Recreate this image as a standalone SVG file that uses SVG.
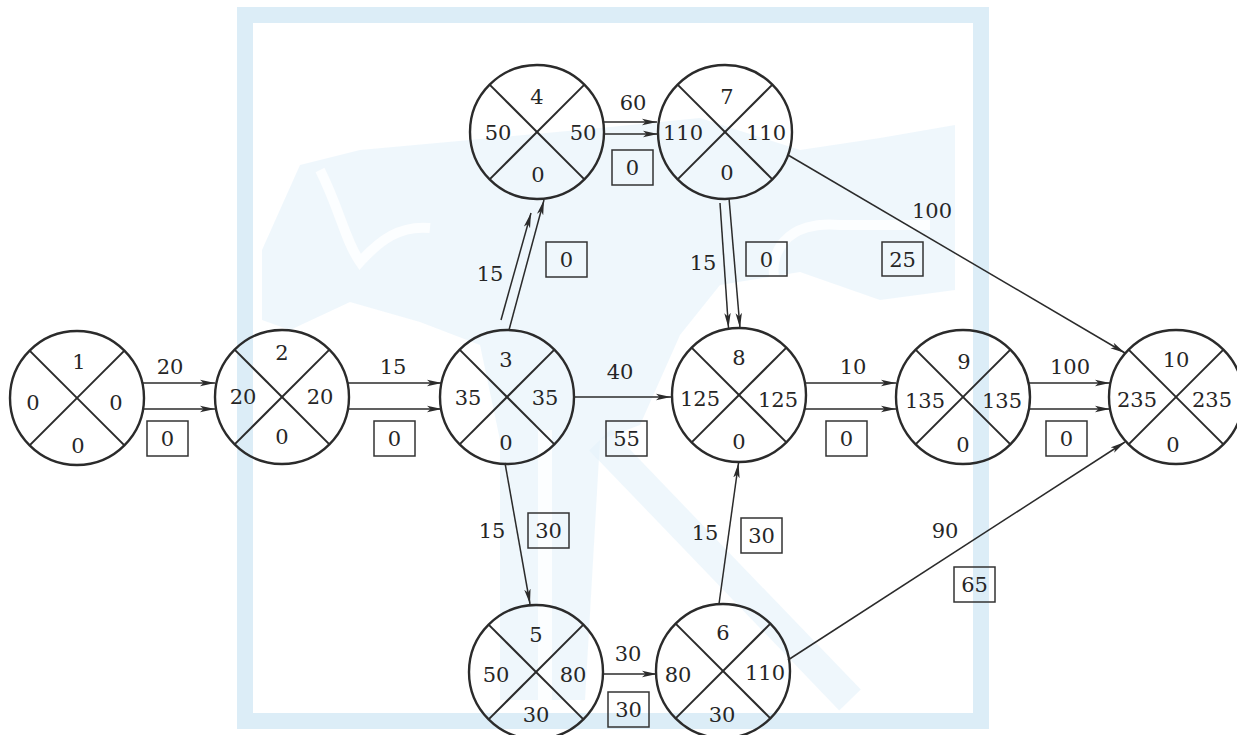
<svg xmlns="http://www.w3.org/2000/svg" width="1237" height="735" viewBox="0 0 1237 735">
  <style>
    .c { fill: none; stroke: #2b2b2b; stroke-width: 2.4; }
    .x { stroke: #2b2b2b; stroke-width: 2; }
    .t { font-family: "DejaVu Serif", "Liberation Serif", serif; font-size: 21px; fill: #262626; text-anchor: middle; }
    .e { fill: none; stroke: #2b2b2b; stroke-width: 1.5; }
    .b { fill: none; stroke: #333333; stroke-width: 1.5; }
    .wm { fill: #e4f1fa; }
  </style>
  <defs>
    <marker id="ah" markerWidth="16" markerHeight="8" refX="15" refY="4" orient="auto" markerUnits="userSpaceOnUse">
      <path d="M0,0.8 L15,4 L0,7.2 L3.5,4 Z" fill="#2b2b2b"/>
    </marker>
  </defs>
  <rect width="1237" height="735" fill="#ffffff"/>

  <g id="watermark">
    <rect x="245" y="15" width="736" height="706" fill="none" stroke="#dcedf7" stroke-width="16"/>
    <path class="wm" d="M300,165 L360,150 L470,140 L600,128 L700,118 L800,150 L880,138 L955,125 L955,290 L880,300 L800,272 L720,285 L680,335 L640,425 L600,440 L585,700 L500,700 L500,440 L480,345 L420,322 L350,302 L290,330 L262,320 L262,250 Z" opacity="0.6"/>
    <path d="M320,170 C340,210 345,240 360,262 C380,240 400,225 430,228" fill="none" stroke="#ffffff" stroke-width="10" opacity="0.8"/>
    <path d="M780,300 C760,250 790,220 840,225 L930,225" fill="none" stroke="#ffffff" stroke-width="10" opacity="0.8"/>
    <path d="M600,440 L850,700" fill="none" stroke="#e4f1fa" stroke-width="30" opacity="0.6"/>
    <path d="M545,430 L545,700" fill="none" stroke="#ffffff" stroke-width="14" opacity="0.8"/>
  </g>

  <g id="connectors">
    <line class="e" x1="142" y1="383" x2="215" y2="383" marker-end="url(#ah)"/>
    <line class="e" x1="142" y1="409" x2="215" y2="409" marker-end="url(#ah)"/>
    <text class="t" x="170" y="374">20</text>
    <rect class="b" x="147" y="421" width="41" height="35"/>
    <text class="t" x="167.5" y="446">0</text>

    <line class="e" x1="348" y1="383" x2="442" y2="383" marker-end="url(#ah)"/>
    <line class="e" x1="348" y1="409" x2="442" y2="409" marker-end="url(#ah)"/>
    <text class="t" x="393" y="374">15</text>
    <rect class="b" x="374" y="421" width="41" height="35"/>
    <text class="t" x="394.5" y="446">0</text>

    <line class="e" x1="574" y1="397" x2="671" y2="397" marker-end="url(#ah)"/>
    <text class="t" x="620" y="379">40</text>
    <rect class="b" x="606" y="421" width="41" height="35"/>
    <text class="t" x="626.5" y="446">55</text>

    <line class="e" x1="805" y1="383" x2="896" y2="383" marker-end="url(#ah)"/>
    <line class="e" x1="805" y1="409" x2="896" y2="409" marker-end="url(#ah)"/>
    <text class="t" x="853" y="374">10</text>
    <rect class="b" x="826" y="421" width="41" height="35"/>
    <text class="t" x="846.5" y="446">0</text>

    <line class="e" x1="1028" y1="383" x2="1110" y2="383" marker-end="url(#ah)"/>
    <line class="e" x1="1028" y1="409" x2="1110" y2="409" marker-end="url(#ah)"/>
    <text class="t" x="1070" y="374">100</text>
    <rect class="b" x="1046" y="421" width="41" height="35"/>
    <text class="t" x="1066.5" y="446">0</text>

    <line class="e" x1="603" y1="122" x2="657" y2="122" marker-end="url(#ah)"/>
    <line class="e" x1="603" y1="134" x2="658" y2="134" marker-end="url(#ah)"/>
    <text class="t" x="633" y="110">60</text>
    <rect class="b" x="612" y="150" width="41" height="35"/>
    <text class="t" x="632.5" y="175">0</text>

    <line class="e" x1="501" y1="320" x2="531" y2="213" marker-end="url(#ah)"/>
    <line class="e" x1="509" y1="330" x2="544" y2="200" marker-end="url(#ah)"/>
    <text class="t" x="490" y="281">15</text>
    <rect class="b" x="546" y="242" width="41" height="35"/>
    <text class="t" x="566.5" y="267">0</text>

    <line class="e" x1="720" y1="203" x2="728.5" y2="328" marker-end="url(#ah)"/>
    <line class="e" x1="729" y1="198" x2="740" y2="328" marker-end="url(#ah)"/>
    <text class="t" x="703" y="270">15</text>
    <rect class="b" x="746" y="242" width="41" height="34"/>
    <text class="t" x="766.5" y="267">0</text>

    <line class="e" x1="788" y1="155" x2="1125" y2="353" marker-end="url(#ah)"/>
    <text class="t" x="932" y="218">100</text>
    <rect class="b" x="882" y="242" width="41" height="34"/>
    <text class="t" x="902.5" y="267">25</text>

    <line class="e" x1="505" y1="463" x2="530" y2="604" marker-end="url(#ah)"/>
    <text class="t" x="492" y="538">15</text>
    <rect class="b" x="528" y="513" width="41" height="35"/>
    <text class="t" x="548.5" y="538">30</text>

    <line class="e" x1="719" y1="604" x2="738.5" y2="463" marker-end="url(#ah)"/>
    <text class="t" x="705" y="540">15</text>
    <rect class="b" x="741" y="518" width="41" height="35"/>
    <text class="t" x="761.5" y="543">30</text>

    <line class="e" x1="602" y1="674" x2="657" y2="674" marker-end="url(#ah)"/>
    <text class="t" x="628" y="661">30</text>
    <rect class="b" x="608" y="692" width="41" height="35"/>
    <text class="t" x="628.5" y="717">30</text>

    <line class="e" x1="788" y1="660" x2="1125" y2="442" marker-end="url(#ah)"/>
    <text class="t" x="945" y="538">90</text>
    <rect class="b" x="954" y="567" width="41" height="35"/>
    <text class="t" x="974.5" y="592">65</text>
  </g>

  <g id="node1">
    <circle class="c" cx="77" cy="398" r="67"/>
    <line class="x" x1="29.6" y1="350.6" x2="124.4" y2="445.4"/>
    <line class="x" x1="124.4" y1="350.6" x2="29.6" y2="445.4"/>
    <text class="t" x="79" y="369">1</text>
    <text class="t" x="33" y="410">0</text>
    <text class="t" x="116" y="410">0</text>
    <text class="t" x="78" y="453">0</text>
  </g>
  <g id="node2">
    <circle class="c" cx="282" cy="397" r="67"/>
    <line class="x" x1="234.6" y1="349.6" x2="329.4" y2="444.4"/>
    <line class="x" x1="329.4" y1="349.6" x2="234.6" y2="444.4"/>
    <text class="t" x="282" y="360">2</text>
    <text class="t" x="243" y="404">20</text>
    <text class="t" x="320" y="404">20</text>
    <text class="t" x="282" y="444">0</text>
  </g>
  <g id="node3">
    <circle class="c" cx="507" cy="397" r="67"/>
    <line class="x" x1="459.6" y1="349.6" x2="554.4" y2="444.4"/>
    <line class="x" x1="554.4" y1="349.6" x2="459.6" y2="444.4"/>
    <text class="t" x="506" y="367">3</text>
    <text class="t" x="468" y="405">35</text>
    <text class="t" x="545" y="405">35</text>
    <text class="t" x="506" y="450">0</text>
  </g>
  <g id="node4">
    <circle class="c" cx="537" cy="132" r="67"/>
    <line class="x" x1="489.6" y1="84.6" x2="584.4" y2="179.4"/>
    <line class="x" x1="584.4" y1="84.6" x2="489.6" y2="179.4"/>
    <text class="t" x="537" y="104">4</text>
    <text class="t" x="498" y="140">50</text>
    <text class="t" x="583" y="140">50</text>
    <text class="t" x="538" y="182">0</text>
  </g>
  <g id="node5">
    <circle class="c" cx="536" cy="672" r="67"/>
    <line class="x" x1="488.6" y1="624.6" x2="583.4" y2="719.4"/>
    <line class="x" x1="583.4" y1="624.6" x2="488.6" y2="719.4"/>
    <text class="t" x="536" y="642">5</text>
    <text class="t" x="496" y="682">50</text>
    <text class="t" x="573" y="682">80</text>
    <text class="t" x="536" y="722">30</text>
  </g>
  <g id="node6">
    <circle class="c" cx="723" cy="671" r="67"/>
    <line class="x" x1="675.6" y1="623.6" x2="770.4" y2="718.4"/>
    <line class="x" x1="770.4" y1="623.6" x2="675.6" y2="718.4"/>
    <text class="t" x="723" y="640">6</text>
    <text class="t" x="678" y="682">80</text>
    <text class="t" x="765" y="680">110</text>
    <text class="t" x="722" y="722">30</text>
  </g>
  <g id="node7">
    <circle class="c" cx="725" cy="132" r="67"/>
    <line class="x" x1="677.6" y1="84.6" x2="772.4" y2="179.4"/>
    <line class="x" x1="772.4" y1="84.6" x2="677.6" y2="179.4"/>
    <text class="t" x="727" y="104">7</text>
    <text class="t" x="683" y="140">110</text>
    <text class="t" x="766" y="140">110</text>
    <text class="t" x="727" y="180">0</text>
  </g>
  <g id="node8">
    <circle class="c" cx="739" cy="395" r="67"/>
    <line class="x" x1="691.6" y1="347.6" x2="786.4" y2="442.4"/>
    <line class="x" x1="786.4" y1="347.6" x2="691.6" y2="442.4"/>
    <text class="t" x="739" y="365">8</text>
    <text class="t" x="700" y="406">125</text>
    <text class="t" x="778" y="407">125</text>
    <text class="t" x="739" y="449">0</text>
  </g>
  <g id="node9">
    <circle class="c" cx="963" cy="397" r="67"/>
    <line class="x" x1="915.6" y1="349.6" x2="1010.4" y2="444.4"/>
    <line class="x" x1="1010.4" y1="349.6" x2="915.6" y2="444.4"/>
    <text class="t" x="964" y="369">9</text>
    <text class="t" x="925" y="408">135</text>
    <text class="t" x="1002" y="408">135</text>
    <text class="t" x="963" y="452">0</text>
  </g>
  <g id="node10">
    <circle class="c" cx="1176" cy="397" r="67"/>
    <line class="x" x1="1128.6" y1="349.6" x2="1223.4" y2="444.4"/>
    <line class="x" x1="1223.4" y1="349.6" x2="1128.6" y2="444.4"/>
    <text class="t" x="1176" y="367">10</text>
    <text class="t" x="1137" y="407">235</text>
    <text class="t" x="1212" y="407">235</text>
    <text class="t" x="1173" y="452">0</text>
  </g>
</svg>
